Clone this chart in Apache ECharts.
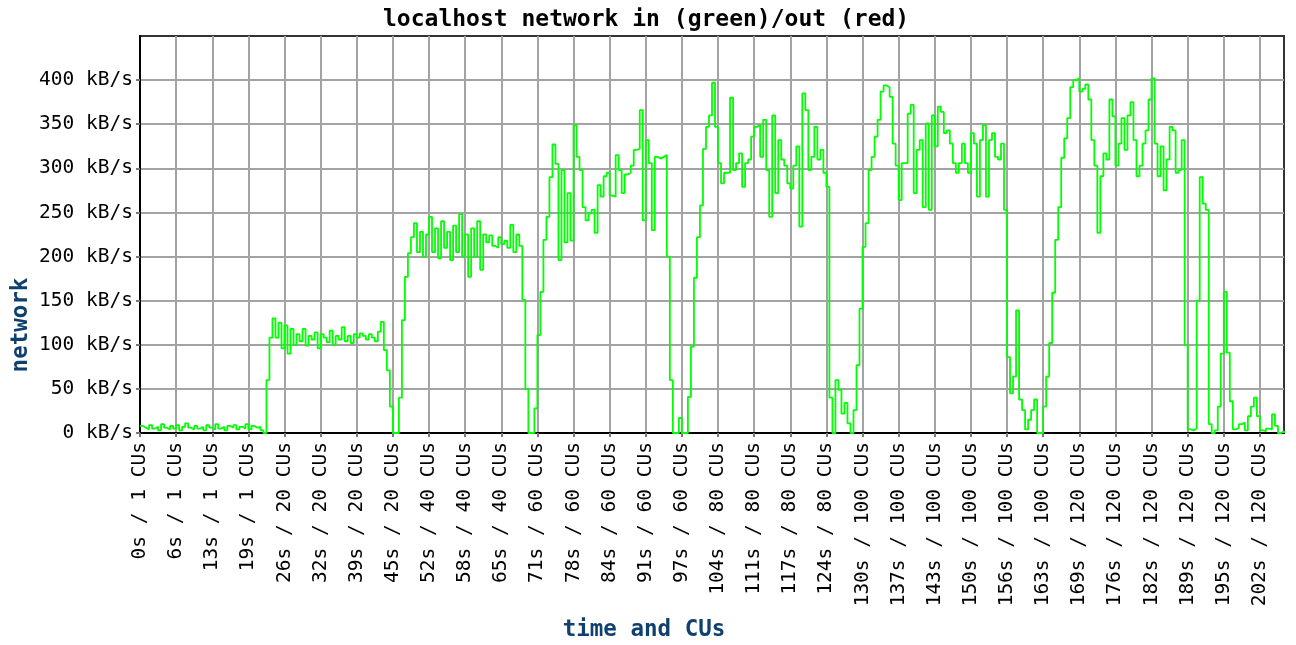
<!DOCTYPE html>
<html>
<head>
<meta charset="utf-8">
<title>localhost network</title>
<script src="https://cdn.jsdelivr.net/npm/echarts@6/dist/echarts.min.js"></script>
<style>
  html, body { margin: 0; padding: 0; background: #fff; }
  #chart { width: 1296px; height: 645px; }
</style>
</head>
<body>
<div id="chart"></div>
<script>
// tick labels (one every 12 samples)
var tickSeconds = [0, 6, 13, 19, 26, 32, 39, 45, 52, 58, 65, 71, 78, 84, 91, 97,
  104, 111, 117, 124, 130, 137, 143, 150, 156, 163, 169, 176, 182, 189, 195, 202];
var tickCUs = [1, 1, 1, 1, 20, 20, 20, 20, 40, 40, 40, 60, 60, 60, 60, 60,
  80, 80, 80, 80, 100, 100, 100, 100, 100, 100, 120, 120, 120, 120, 120, 120];
var samplesPerTick = 12;
var yTicks = [0, 50, 100, 150, 200, 250, 300, 350, 400];

// network in, kB/s
var inIdle = [8, 6, 4, 9, 5, 7, 3, 10, 6, 4, 8, 5, 9, 3, 7, 11, 6, 4, 8, 5,
  7, 3, 9, 6, 4, 10, 5, 7, 3, 8, 6, 9, 4, 7, 5, 10, 4, 8, 6, 7, 3];
var inRise20 = [0, 60, 108];
var inPlateau20 = [130, 108, 125, 96, 122, 90, 118, 100, 112, 104, 118, 99, 110, 106, 114, 96,
  112, 108, 103, 116, 100, 110, 106, 120, 104, 110, 102, 112, 108, 113, 110, 106, 112, 108, 104, 115, 126];
var inGap1 = [94, 71, 30, 0, 0, 40, 128, 177, 204, 222];
var inPlateau40 = [238, 205, 228, 200, 225, 245, 205, 232, 198, 240, 210, 228, 196, 235, 205, 248,
  200, 225, 177, 232, 200, 240, 185, 225, 216, 224, 212, 210, 222, 214, 218, 210, 236, 205, 225, 212];
var inGap2 = [151, 50, 0, 0, 28, 111, 160, 219, 245, 290, 327, 305, 196, 298, 216, 272,
  218, 349, 313, 298, 256, 241, 249, 253, 227, 281];
var inPlateau60 = [268, 291, 295, 269, 268, 315, 298, 272, 293, 295, 303, 321, 322, 366, 241, 332,
  306, 230, 313, 311, 313, 315];
var inGap3 = [200, 60, 0, 0, 17, 0, 0, 41, 98, 176, 222, 258, 322, 347, 360, 397];
var inPlateau80 = [347, 306, 283, 295, 295, 380, 298, 306, 317, 279, 306, 310, 336, 347, 349, 313,
  355, 298, 245, 360, 272, 332, 310, 303, 283, 277, 303, 325, 234, 385, 366, 298, 313, 347, 310,
  321, 295, 279, 40];
var inGap4 = [0, 60, 49, 22, 34, 11, 0, 26, 77, 141, 211, 238, 298, 313, 336, 355, 387, 394, 392, 381, 328];
var inPlateau100 = [303, 264, 306, 306, 362, 372, 272, 321, 332, 256, 351, 253, 360, 325, 370, 364,
  340, 343, 328, 306, 295, 306, 328, 306, 295, 340, 328, 268, 332, 349, 268, 332, 340, 313, 310, 328, 253];
var inGap5 = [86, 45, 64, 139, 38, 26, 4, 15, 26, 38, 0, 0, 30, 64, 102, 159, 219, 256];
var inPlateau120 = [312, 334, 357, 392, 400, 402, 387, 390, 395, 378, 332, 303, 227, 291, 317, 310,
  378, 359, 303, 328, 357, 321, 360, 375, 332, 291, 303, 328, 343, 378, 402, 328, 291, 325, 275,
  310, 347, 343, 295, 298, 332, 100];
var inTail = [4, 3, 5, 150, 290, 260, 253, 10, 0, 3, 30, 90, 160, 91, 36, 4, 6, 10, 12, 3,
  19, 30, 40, 19, 3, 2, 5, 4, 21, 8, 0, 2, 0];

var netIn = [].concat(inIdle, inRise20, inPlateau20, inGap1, inPlateau40, inGap2, inPlateau60,
  inGap3, inPlateau80, inGap4, inPlateau100, inGap5, inPlateau120, inTail);

var sampleIdx = [];
for (var i = 0; i < netIn.length; i++) sampleIdx.push(String(i));

var mono = 'DejaVu Sans Mono';
var gridColor = '#a3a3a3';

var myChart = echarts.init(document.getElementById('chart'), null, { renderer: 'canvas' });
var option = {
  animation: false,
  backgroundColor: '#fff',
  title: {
    text: 'localhost network in (green)/out (red)',
    left: 378,
    top: 4,
    textStyle: { fontFamily: mono, fontWeight: 'bold', fontSize: 23, color: '#000' }
  },
  grid: {
    left: 140, right: 12, top: 36, bottom: 212,
    show: true, borderColor: '#333', borderWidth: 2
  },
  xAxis: {
    type: 'category',
    data: sampleIdx,
    boundaryGap: false,
    axisLine: { lineStyle: { color: '#000', width: 2 } },
    axisTick: { interval: samplesPerTick - 1, length: 4, lineStyle: { color: '#777', width: 2 } },
    axisLabel: {
      interval: samplesPerTick - 1,
      rotate: 90,
      margin: 9,
      fontFamily: mono,
      fontSize: 19.5,
      color: '#000',
      formatter: function (v, idx) {
        var k = idx / samplesPerTick;
        return tickSeconds[k] + 's / ' + tickCUs[k] + ' CUs';
      }
    },
    splitLine: { show: true, interval: samplesPerTick - 1, lineStyle: { color: gridColor, width: 2 } }
  },
  yAxis: {
    type: 'value',
    min: 0,
    max: 450,
    interval: 50,
    axisLine: { show: true, lineStyle: { color: '#000', width: 2 } },
    axisTick: { show: true, length: 4, customValues: yTicks, lineStyle: { color: '#777', width: 2 } },
    axisLabel: {
      margin: 7,
      fontFamily: mono,
      fontSize: 19.5,
      color: '#000',
      customValues: yTicks,
      formatter: function (v) { return v + ' kB/s'; }
    },
    splitLine: { show: true, lineStyle: { color: gridColor, width: 2 } }
  },
  graphic: [
    {
      type: 'text', x: 21, y: 325, rotation: Math.PI / 2,
      style: { text: 'network', fill: '#10406d', font: 'bold 22.5px "DejaVu Sans Mono"',
        textAlign: 'center', textVerticalAlign: 'middle' }
    },
    {
      type: 'text', x: 644, y: 630,
      style: { text: 'time and CUs', fill: '#10406d', font: 'bold 22.5px "DejaVu Sans Mono"',
        textAlign: 'center', textVerticalAlign: 'middle' }
    }
  ],
  series: [{
    name: 'in',
    type: 'line',
    step: 'end',
    data: netIn,
    symbol: 'none',
    lineStyle: { color: '#00ff00', width: 1.8 }
  }]
};
myChart.setOption(option);
</script>
</body>
</html>
